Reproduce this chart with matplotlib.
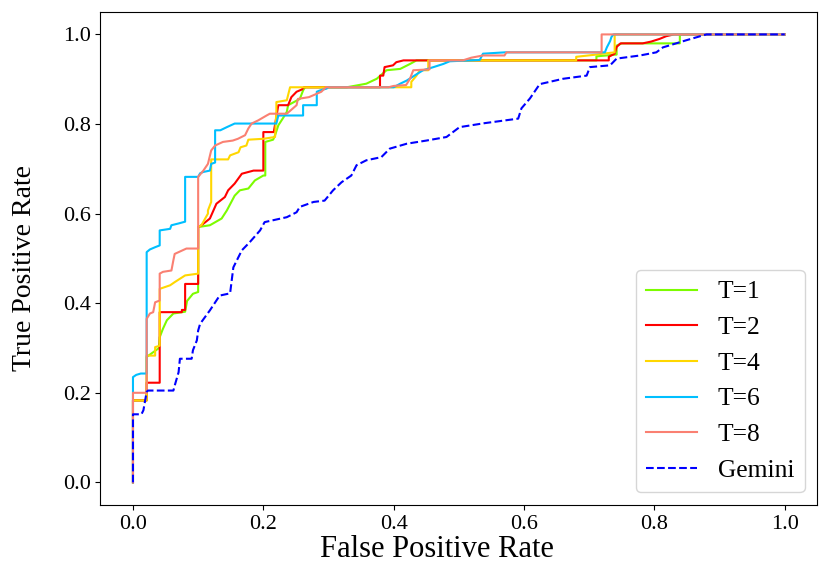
import matplotlib
matplotlib.use('Agg')
from matplotlib import pyplot as plt

plt.rcParams['font.family'] = ['Liberation Serif', 'DejaVu Serif']

# ROC curves
fpr_t1 = [0, 0, 0.021, 0.021, 0.04, 0.041, 0.046, 0.052, 0.062, 0.08, 0.083, 0.092, 0.1, 0.1,
          0.118, 0.136, 0.144, 0.156, 0.164, 0.177, 0.187, 0.2, 0.203, 0.203, 0.215, 0.218, 0.223,
          0.231, 0.236, 0.238, 0.256, 0.261, 0.264, 0.328, 0.358, 0.374, 0.389, 0.41, 0.425, 0.435,
          0.711, 0.711, 0.742, 0.742, 0.75, 0.839, 0.839, 1.0]
tpr_t1 = [0, 0.183, 0.183, 0.28, 0.3, 0.324, 0.343, 0.362, 0.377, 0.381, 0.405, 0.421, 0.425, 0.57,
          0.574, 0.589, 0.607, 0.64, 0.652, 0.656, 0.674, 0.685, 0.685, 0.76, 0.765, 0.775, 0.797,
          0.815, 0.827, 0.842, 0.856, 0.875, 0.882, 0.882, 0.89, 0.901, 0.92, 0.923, 0.934, 0.942,
          0.942, 0.951, 0.955, 0.975, 0.98, 0.98, 1.0, 1.0]

fpr_t2 = [0, 0, 0.021, 0.021, 0.041, 0.041, 0.075, 0.075, 0.08, 0.08, 0.1, 0.1, 0.1, 0.105,
          0.118, 0.128, 0.141, 0.146, 0.156, 0.167, 0.185, 0.2, 0.2, 0.216, 0.223, 0.238, 0.243,
          0.251, 0.259, 0.262, 0.379, 0.379, 0.384, 0.386, 0.399, 0.404, 0.415, 0.73, 0.73, 0.739,
          0.742, 0.748, 0.782, 0.795, 0.808, 0.818, 0.83, 1.0]
tpr_t2 = [0, 0.183, 0.183, 0.2225, 0.2225, 0.38, 0.38, 0.385, 0.385, 0.443, 0.443, 0.466, 0.57, 0.574,
          0.589, 0.622, 0.637, 0.652, 0.667, 0.689, 0.696, 0.696, 0.782, 0.782, 0.842, 0.842, 0.86,
          0.872, 0.877, 0.882, 0.882, 0.908, 0.908, 0.927, 0.931, 0.938, 0.942, 0.942, 0.95, 0.957,
          0.972, 0.98, 0.98, 0.984, 0.99, 0.996, 1.0, 1.0]

fpr_t4 = [0, 0, 0.021, 0.021, 0.034, 0.034, 0.041, 0.041, 0.057, 0.064, 0.08, 0.1, 0.1, 0.105,
          0.115, 0.115, 0.12, 0.12, 0.146, 0.149, 0.162, 0.165, 0.174, 0.177, 0.2, 0.218, 0.22,
          0.22, 0.236, 0.241, 0.427, 0.427, 0.435, 0.44, 0.453, 0.453, 0.68, 0.68, 0.711, 0.721,
          0.739, 0.739, 1.0]
tpr_t4 = [0, 0.183, 0.183, 0.283, 0.283, 0.302, 0.305, 0.432, 0.44, 0.447, 0.462, 0.466, 0.57, 0.574,
          0.6, 0.607, 0.626, 0.721, 0.721, 0.73, 0.737, 0.748, 0.752, 0.765, 0.767, 0.771, 0.83,
          0.849, 0.853, 0.882, 0.882, 0.894, 0.908, 0.92, 0.92, 0.942, 0.942, 0.95, 0.955, 0.957,
          0.96, 1.0, 1.0]

fpr_t6 = [0, 0, 0.005, 0.012, 0.021, 0.021, 0.026, 0.034, 0.041, 0.041, 0.057, 0.059, 0.07, 0.08,
          0.08, 0.1, 0.103, 0.108, 0.118, 0.12, 0.126, 0.126, 0.134, 0.144, 0.156, 0.22, 0.223,
          0.261, 0.261, 0.282, 0.282, 0.287, 0.297, 0.3, 0.4, 0.41, 0.42, 0.435, 0.445, 0.461,
          0.476, 0.486, 0.532, 0.537, 0.571, 0.724, 0.727, 0.732, 0.734, 0.737, 1.0]
tpr_t6 = [0, 0.235, 0.24, 0.243, 0.243, 0.514, 0.52, 0.525, 0.529, 0.5625, 0.566, 0.574, 0.578, 0.582,
          0.682, 0.682, 0.69, 0.693, 0.696, 0.711, 0.714, 0.786, 0.786, 0.793, 0.801, 0.801, 0.819,
          0.819, 0.842, 0.842, 0.872, 0.875, 0.879, 0.882, 0.882, 0.89, 0.897, 0.911, 0.92, 0.927,
          0.934, 0.94, 0.943, 0.957, 0.96, 0.96, 0.971, 0.985, 0.994, 1.0, 1.0]

fpr_t8 = [0, 0, 0.021, 0.021, 0.026, 0.031, 0.034, 0.041, 0.041, 0.046, 0.059, 0.062, 0.064, 0.082,
          0.1, 0.1, 0.108, 0.115, 0.12, 0.126, 0.138, 0.153, 0.161, 0.172, 0.177, 0.182, 0.192,
          0.205, 0.21, 0.236, 0.251, 0.253, 0.27, 0.289, 0.296, 0.392, 0.4, 0.419, 0.425, 0.43,
          0.455, 0.455, 0.506, 0.519, 0.537, 0.57, 0.573, 0.719, 0.719, 1.0]
tpr_t8 = [0, 0.2, 0.2, 0.365, 0.377, 0.38, 0.402, 0.406, 0.466, 0.47, 0.473, 0.496, 0.51, 0.522,
          0.522, 0.682, 0.696, 0.711, 0.741, 0.752, 0.76, 0.763, 0.767, 0.775, 0.79, 0.801, 0.808,
          0.819, 0.823, 0.823, 0.842, 0.856, 0.86, 0.872, 0.882, 0.882, 0.885, 0.887, 0.901, 0.92,
          0.922, 0.942, 0.942, 0.948, 0.953, 0.953, 0.96, 0.96, 1.0, 1.0]

fpr_gem = [0, 0, 0.013, 0.016, 0.021, 0.023, 0.062, 0.065, 0.07, 0.072, 0.09, 0.092, 0.098, 0.1,
           0.103, 0.118, 0.133, 0.149, 0.154, 0.167, 0.179, 0.195, 0.202, 0.236, 0.251, 0.256,
           0.277, 0.294, 0.307, 0.32, 0.335, 0.343, 0.358, 0.381, 0.394, 0.42, 0.45, 0.481, 0.501,
           0.54, 0.591, 0.596, 0.609, 0.624, 0.66, 0.696, 0.701, 0.732, 0.742, 0.778, 0.803, 0.813,
           0.849, 0.875, 0.88, 1.0]
tpr_gem = [0, 0.152, 0.152, 0.161, 0.202, 0.205, 0.205, 0.221, 0.246, 0.276, 0.276, 0.295, 0.317, 0.339,
           0.354, 0.384, 0.417, 0.422, 0.48, 0.518, 0.536, 0.5625, 0.581, 0.592, 0.603, 0.615,
           0.626, 0.629, 0.652, 0.67, 0.685, 0.708, 0.719, 0.726, 0.745, 0.756, 0.763, 0.771, 0.793,
           0.802, 0.812, 0.835, 0.857, 0.889, 0.901, 0.908, 0.927, 0.931, 0.946, 0.953, 0.96, 0.971,
           0.987, 0.998, 1.0, 1.0]

fig = plt.figure(figsize=(8.31, 5.72), dpi=100)
ax = fig.add_axes([0.1208, 0.1175, 0.8628, 0.8615])

ax.plot(fpr_t1, tpr_t1, color='lawngreen', lw=1.5, label='T=1')
ax.plot(fpr_t2, tpr_t2, color='red', lw=1.5, label='T=2')
ax.plot(fpr_t4, tpr_t4, color='gold', lw=1.5, label='T=4')
ax.plot(fpr_t6, tpr_t6, color='deepskyblue', lw=1.5, label='T=6')
ax.plot(fpr_t8, tpr_t8, color='salmon', lw=1.5, label='T=8')
ax.plot(fpr_gem, tpr_gem, color='blue', lw=1.5, ls='--', label='Gemini')

ax.set_xlim(-0.05, 1.05)
ax.set_ylim(-0.05, 1.05)
ax.set_xticks([0.0, 0.2, 0.4, 0.6, 0.8, 1.0])
ax.set_yticks([0.0, 0.2, 0.4, 0.6, 0.8, 1.0])
ax.tick_params(labelsize=16)
ax.set_xlabel('False Positive Rate', fontsize=22)
ax.set_ylabel('True Positive Rate', fontsize=20)
ax.xaxis.set_label_coords(0.469, -0.062)
ax.yaxis.set_label_coords(-0.088, 0.4815)
ax.legend(loc='lower right', fontsize=18.4)

fig.savefig('out.png', dpi=100)
